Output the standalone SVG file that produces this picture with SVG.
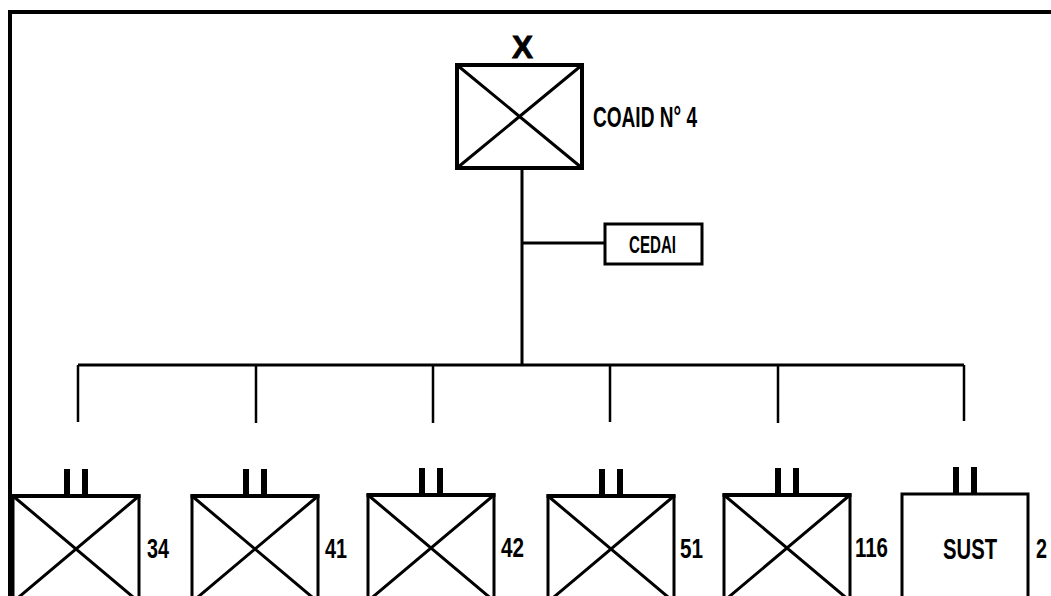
<svg xmlns="http://www.w3.org/2000/svg" width="1051" height="596" viewBox="0 0 1051 596">
<style>
.bg{fill:#ffffff}
.frame{fill:none;stroke:#000;stroke-width:4}
.box{fill:#fff;stroke:#000;stroke-width:3}
.top{stroke:#000;stroke-width:4}
.hq{fill:#fff;stroke:#000;stroke-width:4}
.diag{stroke:#000;stroke-width:3;fill:none}
.bar{fill:#000}
.conn{stroke:#000;fill:none}
.lbl{font-family:"Liberation Sans Narrow","Liberation Sans",Arial,sans-serif;font-weight:bold;fill:#000}
</style>
<rect class="bg" x="0" y="0" width="1051" height="596"/>
<path id="frame" class="frame" d="M10,600 V12 H1055"/>

<g id="connectors">
<path class="conn" stroke-width="3" d="M522,168 V366"/>
<path class="conn" stroke-width="3" d="M522,243 H605"/>
<path class="conn" stroke-width="3" d="M78,365 H964"/>
<path class="conn" stroke-width="2.5" d="M78,365 V422 M256,365 V423 M433,365 V423 M610,365 V422 M778,365 V423 M964,365 V421"/>
</g>

<g id="coaid">
<rect class="hq" x="457" y="65" width="125" height="103"/>
<path class="diag" d="M457,65 L582,168 M582,65 L457,168"/>
<text class="lbl" x="512" y="58" font-size="31" textLength="21" lengthAdjust="spacingAndGlyphs" stroke="#000" stroke-width="0.8">X</text>
<text class="lbl" x="593" y="127" font-size="30" textLength="104" lengthAdjust="spacingAndGlyphs">COAID N° 4</text>
</g>

<g id="cedai">
<rect class="box" x="605" y="224" width="97" height="40"/>
<text class="lbl" x="629" y="253" font-size="24" textLength="47" lengthAdjust="spacingAndGlyphs">CEDAI</text>
</g>

<g id="unit34">
<g transform="translate(13,496)">
<rect class="box" x="0" y="0" width="126" height="106"/>
<path class="top" d="M-1.5,0 H127.5"/>
<path class="diag" d="M0,0 L126,106 M126,0 L0,106"/>
<rect class="bar" x="51" y="-27" width="6" height="27"/>
<rect class="bar" x="69" y="-27" width="6" height="27"/>
</g>
<text class="lbl" x="147" y="558" font-size="28" textLength="22" lengthAdjust="spacingAndGlyphs">34</text>
</g>

<g id="unit41">
<g transform="translate(192,496)">
<rect class="box" x="0" y="0" width="126" height="106"/>
<path class="top" d="M-1.5,0 H127.5"/>
<path class="diag" d="M0,0 L126,106 M126,0 L0,106"/>
<rect class="bar" x="51" y="-27" width="6" height="27"/>
<rect class="bar" x="69" y="-27" width="6" height="27"/>
</g>
<text class="lbl" x="325" y="558" font-size="28" textLength="22" lengthAdjust="spacingAndGlyphs">41</text>
</g>

<g id="unit42">
<g transform="translate(368,495)">
<rect class="box" x="0" y="0" width="126" height="106"/>
<path class="top" d="M-1.5,0 H127.5"/>
<path class="diag" d="M0,0 L126,106 M126,0 L0,106"/>
<rect class="bar" x="51" y="-27" width="6" height="27"/>
<rect class="bar" x="69" y="-27" width="6" height="27"/>
</g>
<text class="lbl" x="501" y="557" font-size="28" textLength="23" lengthAdjust="spacingAndGlyphs">42</text>
</g>

<g id="unit51">
<g transform="translate(548,496)">
<rect class="box" x="0" y="0" width="126" height="106"/>
<path class="top" d="M-1.5,0 H127.5"/>
<path class="diag" d="M0,0 L126,106 M126,0 L0,106"/>
<rect class="bar" x="51" y="-27" width="6" height="27"/>
<rect class="bar" x="69" y="-27" width="6" height="27"/>
</g>
<text class="lbl" x="680" y="558" font-size="28" textLength="23" lengthAdjust="spacingAndGlyphs">51</text>
</g>

<g id="unit116">
<g transform="translate(724,495)">
<rect class="box" x="0" y="0" width="126" height="106"/>
<path class="top" d="M-1.5,0 H127.5"/>
<path class="diag" d="M0,0 L126,106 M126,0 L0,106"/>
<rect class="bar" x="51" y="-27" width="6" height="27"/>
<rect class="bar" x="69" y="-27" width="6" height="27"/>
</g>
<text class="lbl" x="855" y="557" font-size="28" textLength="33" lengthAdjust="spacingAndGlyphs">116</text>
</g>

<g id="sust">
<g transform="translate(902,494)">
<rect class="box" x="0" y="0" width="126" height="108"/>
<rect class="bar" x="51" y="-27" width="6" height="27"/>
<rect class="bar" x="69" y="-27" width="6" height="27"/>
</g>
<text class="lbl" x="943" y="559" font-size="29" textLength="54" lengthAdjust="spacingAndGlyphs">SUST</text>
<text class="lbl" x="1036" y="558" font-size="28" textLength="11" lengthAdjust="spacingAndGlyphs">2</text>
</g>
</svg>
